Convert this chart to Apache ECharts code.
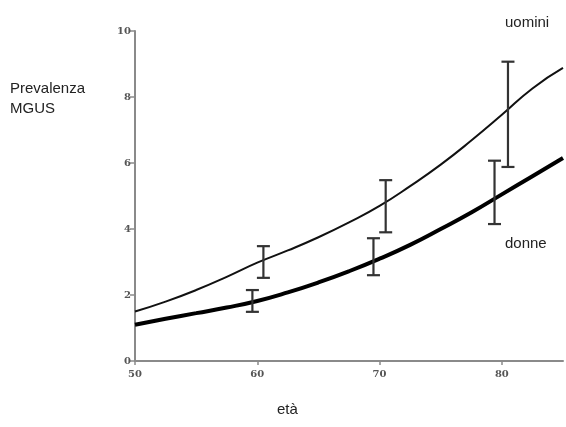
<!DOCTYPE html>
<html>
<head>
<meta charset="utf-8">
<script src="https://cdn.jsdelivr.net/npm/echarts@6/dist/echarts.min.js"></script>
<style>
  html, body { margin: 0; padding: 0; background: #fff; }
</style>
</head>
<body>
<div id="chart" style="width: 566px; height: 427px"></div>
<script>
// curve samples (età -> prevalenza %)
const ages = [50, 52.5, 55, 57.5, 60, 62.5, 65, 67.5, 70, 72.5, 75, 77.5, 80, 82.5, 85];
const uomini = [1.5, 1.8, 2.15, 2.55, 2.98, 3.35, 3.75, 4.2, 4.7, 5.3, 5.95, 6.68, 7.46, 8.26, 8.88];
const donne = [1.1, 1.28, 1.45, 1.62, 1.82, 2.08, 2.38, 2.72, 3.1, 3.52, 4.0, 4.5, 5.05, 5.6, 6.15];

// error bars: [x, low, high]
const uominiErr = [[60.5, 2.52, 3.48], [70.5, 3.9, 5.48], [80.5, 5.88, 9.07]];
const donneErr = [[59.6, 1.49, 2.15], [69.5, 2.6, 3.72], [79.4, 4.15, 6.07]];

const xTicks = [50, 60, 70, 80];
const yTicks = [0, 2, 4, 6, 8, 10];

const pairs = (xs, ys) => xs.map((x, i) => [x, ys[i]]);

// disegna la barra di errore a forma di "I"
function renderErr(params, api) {
  const x = api.value(0);
  const lo = api.coord([x, api.value(1)]);
  const hi = api.coord([x, api.value(2)]);
  const w = 6.5;
  const style = { stroke: "#333", lineWidth: 2.2 };
  return {
    type: "group",
    children: [
      { type: "line", shape: { x1: lo[0], y1: lo[1], x2: hi[0], y2: hi[1] }, style },
      { type: "line", shape: { x1: hi[0] - w, y1: hi[1], x2: hi[0] + w, y2: hi[1] }, style },
      { type: "line", shape: { x1: lo[0] - w, y1: lo[1], x2: lo[0] + w, y2: lo[1] }, style },
    ],
  };
}

const myChart = echarts.init(document.getElementById("chart"));
myChart.setOption({
  animation: false,
  grid: { left: 135, right: 3, top: 31, bottom: 66 },
  xAxis: {
    type: "value",
    min: 50,
    max: 85,
    interval: 10,
    splitLine: { show: false },
    axisLine: { lineStyle: { color: "#8a8a8a", width: 2 } },
    axisTick: { length: 4, customValues: xTicks, lineStyle: { color: "#8a8a8a", width: 1.5 } },
    axisLabel: {
      customValues: xTicks,
      color: "#555",
      fontFamily: "DejaVu Serif",
      fontWeight: "bold",
      fontSize: 10,
      margin: 8,
    },
  },
  yAxis: {
    type: "value",
    min: 0,
    max: 10,
    interval: 2,
    splitLine: { show: false },
    axisLine: { show: true, lineStyle: { color: "#8a8a8a", width: 2 } },
    axisTick: { show: true, length: 5, customValues: yTicks, lineStyle: { color: "#8a8a8a", width: 1.5 } },
    axisLabel: {
      color: "#555",
      fontFamily: "DejaVu Serif",
      fontWeight: "bold",
      fontSize: 10,
      margin: 4,
    },
  },
  series: [
    {
      name: "uomini",
      type: "line",
      smooth: 0.5,
      showSymbol: false,
      data: pairs(ages, uomini),
      lineStyle: { color: "#111", width: 2 },
      z: 3,
    },
    {
      name: "donne",
      type: "line",
      smooth: 0.5,
      showSymbol: false,
      data: pairs(ages, donne),
      lineStyle: { color: "#000", width: 4 },
      z: 3,
    },
    { type: "custom", renderItem: renderErr, data: uominiErr, z: 4 },
    { type: "custom", renderItem: renderErr, data: donneErr, z: 4 },
  ],
  graphic: [
    { type: "text", left: 10, top: 79, style: { text: "Prevalenza\nMGUS", font: "15px Liberation Sans", fill: "#222", lineHeight: 20 } },
    { type: "text", left: 505, top: 15, style: { text: "uomini", font: "15px Liberation Sans", fill: "#222" } },
    { type: "text", left: 505, top: 236, style: { text: "donne", font: "15px Liberation Sans", fill: "#222" } },
    { type: "text", left: 277, top: 402, style: { text: "età", font: "15px Liberation Sans", fill: "#222" } },
  ],
});

window.addEventListener("resize", () => {
  myChart.resize();
});
</script>
</body>
</html>
